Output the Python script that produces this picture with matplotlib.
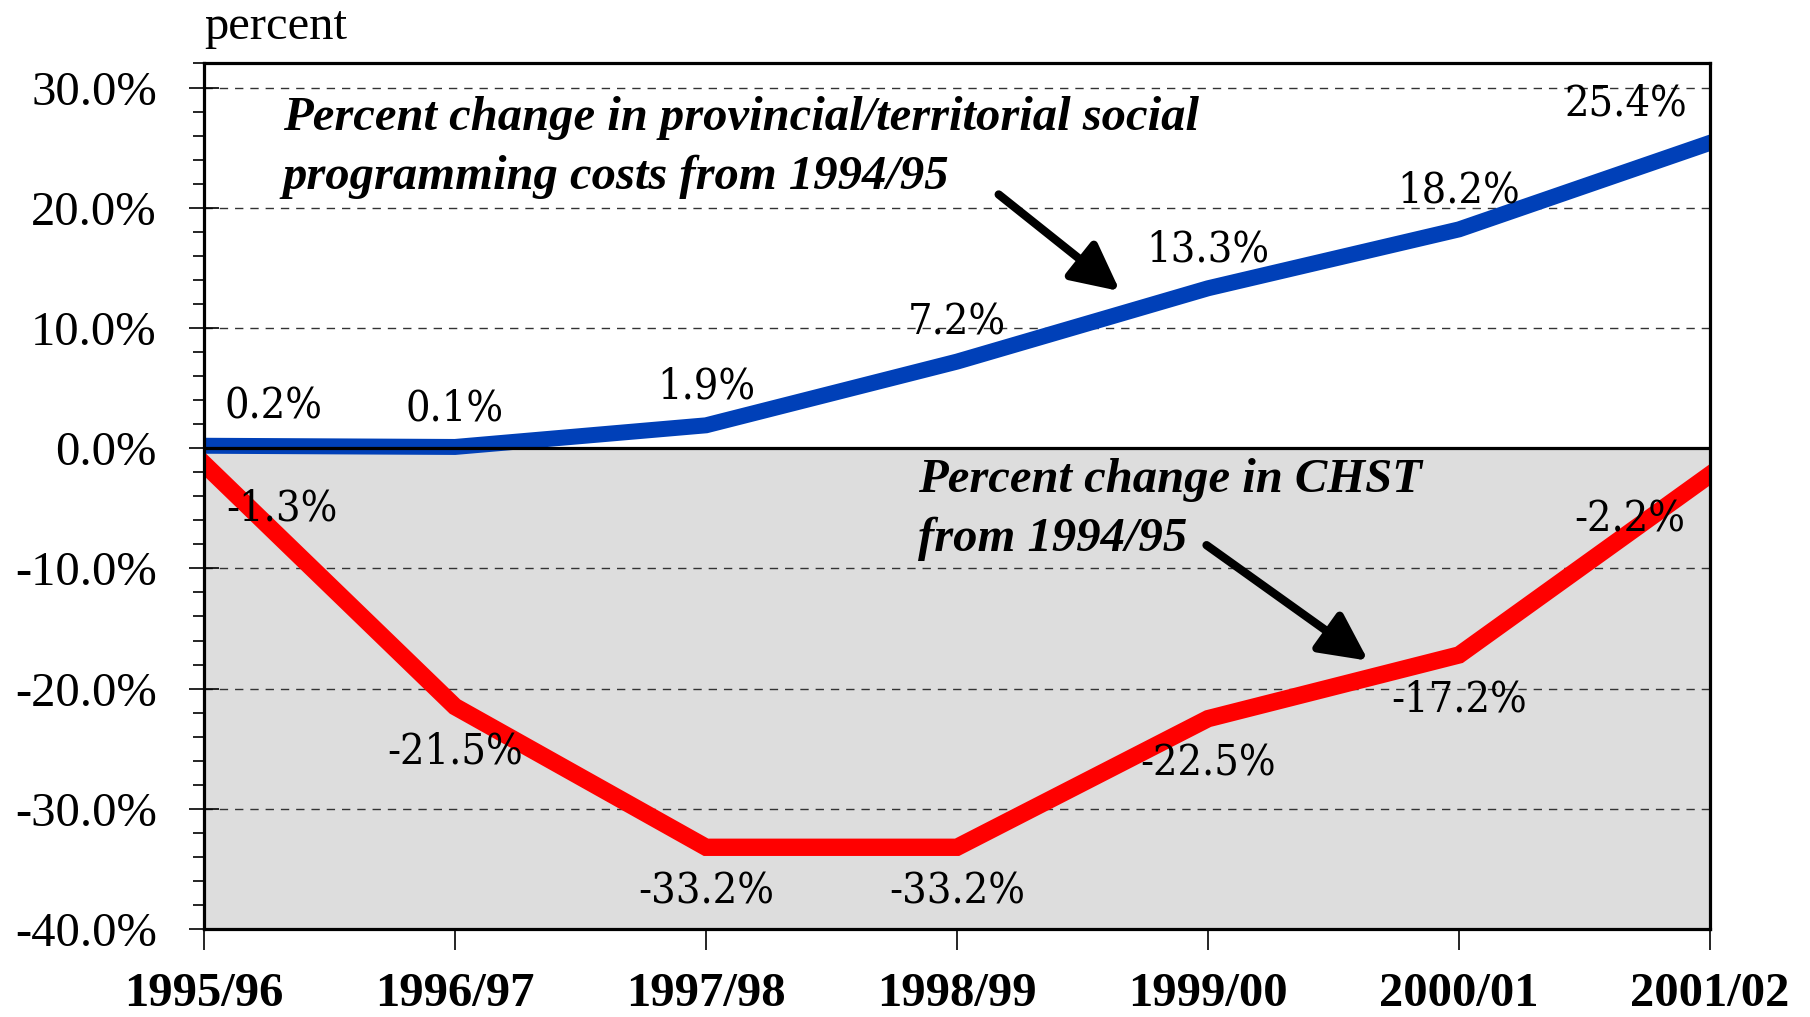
import numpy as np
import matplotlib.pyplot as plt
from matplotlib.ticker import MultipleLocator, FuncFormatter

years = ['1995/96', '1996/97', '1997/98', '1998/99', '1999/00', '2000/01', '2001/02']
provincial = [0.2, 0.1, 1.9, 7.2, 13.3, 18.2, 25.4]
chst = [-1.3, -21.5, -33.2, -33.2, -22.5, -17.2, -2.2]

blue = '#0040B8'
red = '#FF0000'

fig = plt.figure(figsize=(18.1, 10.17), dpi=100)
ax = fig.add_axes([0.1127, 0.0865, 0.8321, 0.8511])

x = np.arange(len(years))

ax.set_xlim(0, len(years) - 1)
ax.set_ylim(-40, 32)

# grey area below zero
ax.axhspan(-40, 0, color='#DDDDDD', zorder=0)
for g in [-30, -20, -10, 10, 20, 30]:
    ax.axhline(g, color='#333333', lw=1, ls=(0, (6, 5)), zorder=1)
ax.axhline(0, color='black', lw=2.3, zorder=4)

ax.plot(x, provincial, color=blue, lw=11.5, solid_joinstyle='miter', zorder=3)
ax.plot(x, chst, color=red, lw=12.5, solid_joinstyle='miter', zorder=3)

# value labels
blue_dx = [50, 0, 0, 0, 0, 0, -61]
red_dx = [56, 0, 0, 0, 0, 0, -58]
for i in range(len(years)):
    ax.annotate('%.1f%%' % provincial[i], (x[i], provincial[i]),
                xytext=(blue_dx[i], 28), textcoords='offset points',
                ha='center', va='center', fontsize=31, stretch='condensed',
                family='DejaVu Serif', zorder=6, annotation_clip=False)
    ax.annotate('%.1f%%' % chst[i], (x[i], chst[i]),
                xytext=(red_dx[i], -32), textcoords='offset points',
                ha='center', va='center', fontsize=31, stretch='condensed',
                family='DejaVu Serif', zorder=6, annotation_clip=False)

ax.text(0.313, 29.3, 'Percent change in provincial/territorial social\nprogramming costs from 1994/95',
        fontsize=35, family='Liberation Serif', weight='bold', style='italic',
        ha='left', va='top', linespacing=1.42, zorder=6)
ax.text(2.844, -0.8, 'Percent change in CHST\nfrom 1994/95',
        fontsize=35, family='Liberation Serif', weight='bold', style='italic',
        ha='left', va='top', linespacing=1.42, zorder=6)

arrow = dict(arrowstyle='-|>,head_length=0.8,head_width=0.4', lw=6,
             color='black', mutation_scale=36, shrinkA=0, shrinkB=0)
ax.annotate('', xy=(3.649, 13.06), xytext=(3.166, 21.1), arrowprops=arrow, zorder=7)
ax.annotate('', xy=(4.638, -17.68), xytext=(3.994, -8.07), arrowprops=arrow, zorder=7)

ax.set_xticks(x)
ax.set_xticklabels(years, fontsize=35, family='Liberation Serif', weight='bold')
ax.yaxis.set_major_locator(MultipleLocator(10))
ax.yaxis.set_minor_locator(MultipleLocator(2))
ax.yaxis.set_major_formatter(FuncFormatter(lambda v, p: '%.1f%%' % v))
for lab in ax.get_yticklabels():
    lab.set_family('Liberation Serif')
    lab.set_fontsize(35)

ax.tick_params(axis='y', which='major', direction='inout', length=22, width=1.2, pad=23)
ax.tick_params(axis='y', which='minor', direction='out', length=8, width=1.2)
ax.tick_params(axis='x', which='major', direction='out', length=15, width=1.2, pad=16)

for s in ax.spines.values():
    s.set_linewidth(2.3)
    s.set_zorder(8)

ax.text(0, 1.028, 'percent', transform=ax.transAxes, fontsize=35,
        family='Liberation Serif', ha='left', va='baseline')

fig.savefig('out.png', dpi=100)
